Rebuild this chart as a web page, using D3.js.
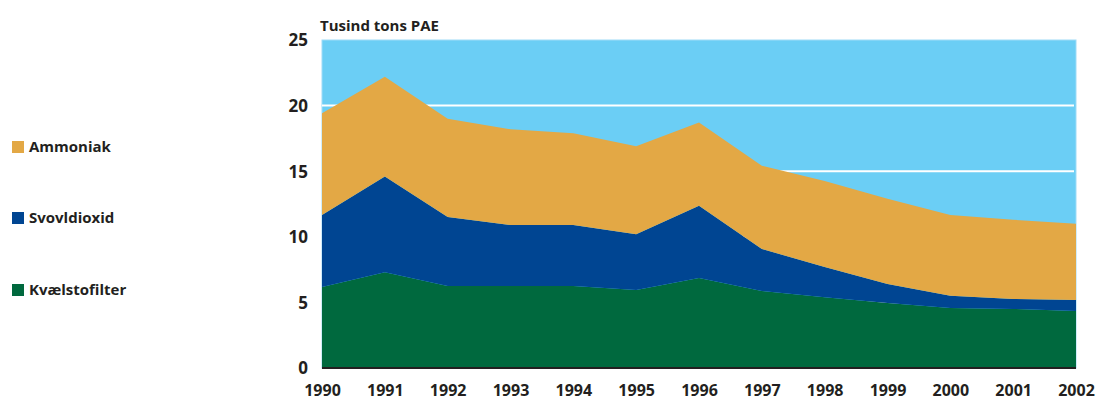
<!DOCTYPE html>
<html>
<head>
<meta charset="utf-8">
<script src="https://cdn.jsdelivr.net/npm/d3@7"></script>
<style>
  body { margin: 0; background: #fff; }
  text { font-family: "Open Sans", "DejaVu Sans", sans-serif; font-weight: 700; fill: #231f20; }
</style>
</head>
<body>
<script>
// data (tusind tons PAE)
var years = [1990, 1991, 1992, 1993, 1994, 1995, 1996, 1997, 1998, 1999, 2000, 2001, 2002];
var kvaelstof = [6.17, 7.3, 6.25, 6.25, 6.25, 5.95, 6.86, 5.87, 5.4, 4.95, 4.57, 4.5, 4.35];
var svovl = [5.5, 7.3, 5.25, 4.65, 4.65, 4.25, 5.5, 3.2, 2.3, 1.45, 0.93, 0.76, 0.83];
var ammoniak = [7.75, 7.6, 7.5, 7.3, 7.0, 6.7, 6.35, 6.35, 6.55, 6.5, 6.16, 6.04, 5.82];
var yTicks = [0, 5, 10, 15, 20, 25];

var seriesNames = ["Kvælstofilter", "Svovldioxid", "Ammoniak"];
var colors = { "Kvælstofilter": "#00693e", "Svovldioxid": "#004592", "Ammoniak": "#e3a845" };

var margin = { top: 40, right: 20, bottom: 36, left: 322 },
  width = 1076 - margin.left,
  height = 368 - margin.top;

var svg = d3.select("body").append("svg")
  .attr("width", 1096)
  .attr("height", 404);

var g = svg.append("g")
  .attr("transform", "translate(" + margin.left + "," + margin.top + ")");

var x = d3.scaleLinear().domain([1990, 2002]).range([0, width]);
var y = d3.scaleLinear().domain([0, 25]).range([height, 0]);

// build table for stack
var table = years.map(function (yr, i) {
  return { year: yr, "Kvælstofilter": kvaelstof[i], "Svovldioxid": svovl[i], "Ammoniak": ammoniak[i] };
});
var stacked = d3.stack().keys(seriesNames)(table);

// background
g.append("rect")
  .attr("width", width)
  .attr("height", height)
  .attr("fill", "#6bcef5")
  .attr("stroke", "#9fdcf7")
  .attr("stroke-width", 1);

// gridlines
g.append("g")
  .selectAll("line")
  .data(yTicks.filter(function (t) { return t > 0 && t < 25; }))
  .enter().append("line")
  .attr("x1", 0).attr("x2", width - 2)
  .attr("y1", function (d) { return y(d); })
  .attr("y2", function (d) { return y(d); })
  .attr("stroke", "#fff")
  .attr("stroke-width", 2);

var area = d3.area()
  .x(function (d) { return x(d.data.year); })
  .y0(function (d) { return y(d[0]); })
  .y1(function (d) { return y(d[1]); });

g.append("g")
  .selectAll("path")
  .data(stacked)
  .enter().append("path")
  .attr("d", area)
  .attr("fill", function (d) { return colors[d.key]; });

// baseline
g.append("line")
  .attr("x1", 0).attr("x2", width)
  .attr("y1", height).attr("y2", height)
  .attr("stroke", "#231f20")
  .attr("stroke-width", 2);

// y axis
var yAxis = g.append("g")
  .call(d3.axisLeft(y).tickValues(yTicks).tickSize(0).tickPadding(14));
yAxis.select(".domain").remove();
yAxis.selectAll("text").style("font-size", "17px").attr("dy", "0.35em");

// x axis
var xAxis = g.append("g")
  .attr("transform", "translate(0," + height + ")")
  .call(d3.axisBottom(x).tickValues(years).tickFormat(d3.format("d")).tickSize(0).tickPadding(17));
xAxis.select(".domain").remove();
xAxis.selectAll("text").style("font-size", "16px");

// unit title
svg.append("text")
  .attr("x", 320)
  .attr("y", 31)
  .style("font-size", "15px")
  .text("Tusind tons PAE");

// legend
var legendY = { "Ammoniak": 147, "Svovldioxid": 218, "Kvælstofilter": 290 };
var legend = svg.append("g")
  .selectAll("g")
  .data(seriesNames)
  .enter().append("g")
  .attr("transform", function (d) { return "translate(12," + legendY[d] + ")"; });
legend.append("rect")
  .attr("y", -6)
  .attr("width", 12)
  .attr("height", 12)
  .attr("fill", function (d) { return colors[d]; });
legend.append("text")
  .attr("x", 17)
  .attr("dy", "0.35em")
  .style("font-size", "15px")
  .text(function (d) { return d; });
</script>
</body>
</html>
